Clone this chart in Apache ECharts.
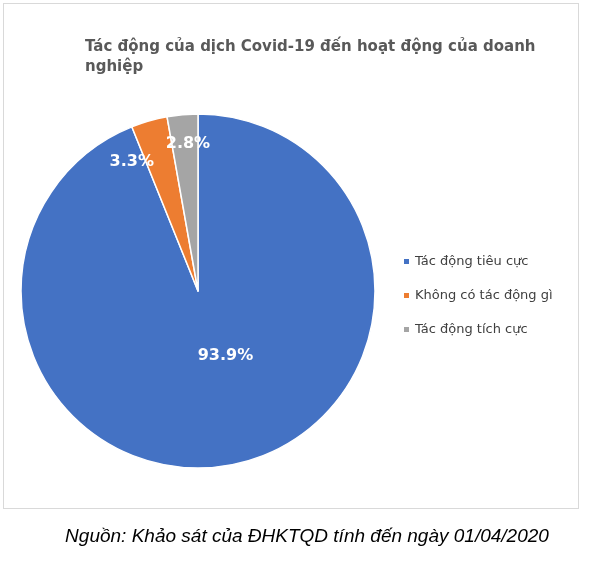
<!DOCTYPE html>
<html><head><meta charset="utf-8">
<script src="https://cdn.jsdelivr.net/npm/echarts@6/dist/echarts.min.js"></script>
<style>body{margin:0;background:#fff}#c{width:594px;height:587px}
#f{position:absolute;left:0;top:525px;width:594px;text-align:center;font:italic 19px Arial,"Liberation Sans",sans-serif;color:#000;padding-left:20px;box-sizing:border-box}
#b{position:absolute;left:3px;top:3px;width:574px;height:504px;border:1px solid #d9d9d9}</style>
</head><body><div id="b"></div><div id="c"></div>
<div id="f">Nguồn: Khảo sát của ĐHKTQD tính đến ngày 01/04/2020</div>
<script>
const categories=["Tác động tiêu cực","Không có tác động gì","Tác động tích cực"];
const values=[93.9,3.3,2.8];
const colors=["#4472C4","#ED7D31","#A5A5A5"];
const offsets=[[10,-25],[-41,-41],[-2,-56]];
const ch=echarts.init(document.getElementById('c'));
ch.setOption({
 title:{text:"Tác động của dịch Covid-19 đến hoạt động của doanh\nnghiệp",left:80,top:32,
  textStyle:{fontSize:15,fontWeight:'bold',color:'#595959',fontFamily:'Verdana,DejaVu Sans,sans-serif',lineHeight:20}},
 legend:{orient:'vertical',left:397,top:250,itemGap:21,itemWidth:7,itemHeight:7,icon:'rect',
  textStyle:{fontSize:13,color:'#404040',fontFamily:'Verdana,DejaVu Sans,sans-serif'}},
 series:[{type:'pie',center:[198,291],radius:177,startAngle:90,clockwise:true,animation:false,
  itemStyle:{borderColor:'#fff',borderWidth:1.5},
  label:{position:'inside',formatter:p=>p.value.toFixed(1)+'%',color:'#fff',fontWeight:'bold',fontSize:16,fontFamily:'Verdana,DejaVu Sans,sans-serif'},
  data:categories.map((n,i)=>({name:n,value:values[i],itemStyle:{color:colors[i]},label:{offset:offsets[i]}}))}]
});
</script></body></html>
